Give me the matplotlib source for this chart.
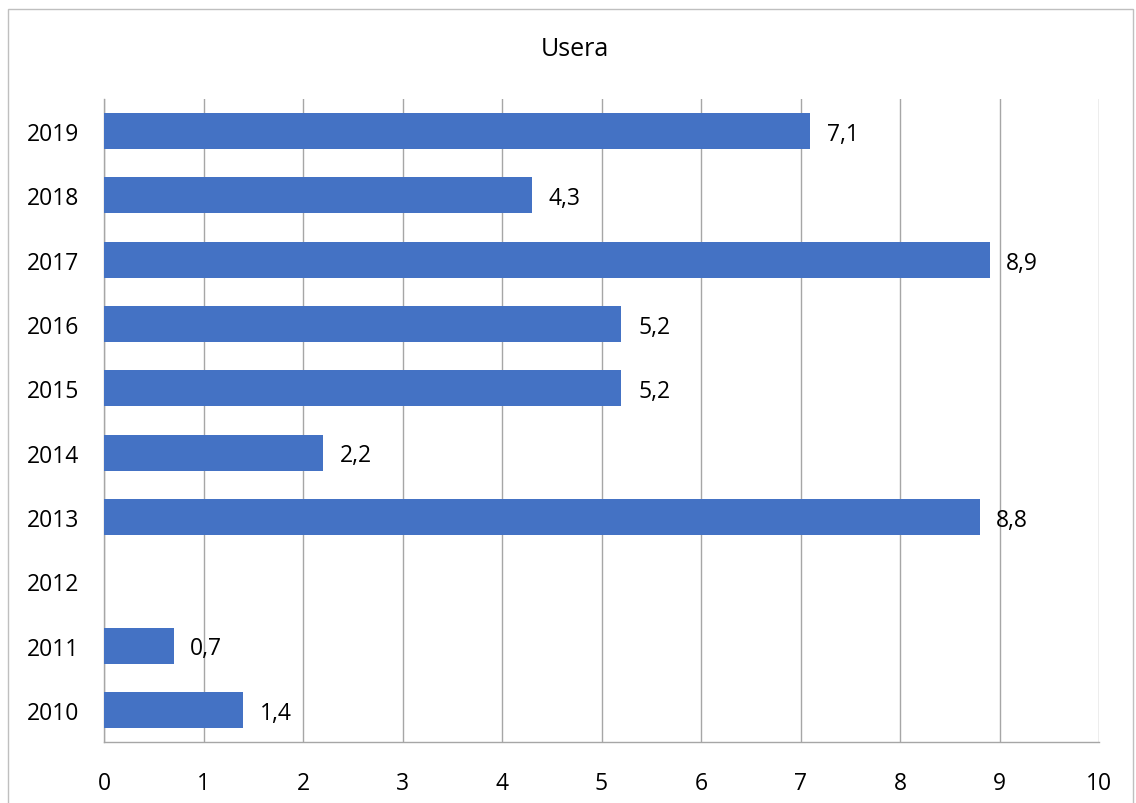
import matplotlib.pyplot as plt
import numpy as np
from matplotlib.patches import Rectangle

plt.rcParams['font.family'] = ['Open Sans', 'DejaVu Sans']

# data
years = ['2010', '2011', '2012', '2013', '2014', '2015', '2016', '2017', '2018', '2019']
values = [1.4, 0.7, np.nan, 8.8, 2.2, 5.2, 5.2, 8.9, 4.3, 7.1]
x_ticks = [0, 1, 2, 3, 4, 5, 6, 7, 8, 9, 10]
title = 'Usera'

W, H = 1136, 804
FS = 16.5
fig = plt.figure(figsize=(W / 100, H / 100), dpi=100)
ax = fig.add_axes([104 / W, (H - 743) / H, (1099 - 104) / W, (743 - 100) / H])

y = np.arange(len(years))
ax.barh(y, np.nan_to_num(values), height=0.56, color='#4472C4', zorder=3)

# etiquetas con coma decimal
for yi, v in zip(y, values):
    if np.isnan(v):
        continue
    ax.annotate(f'{v:.1f}'.replace('.', ','), xy=(v, yi), xytext=(12, -2),
                textcoords='offset points', ha='left', va='center', fontsize=FS)

ax.set_xlim(0, 10)
ax.set_ylim(-0.5, len(years) - 0.5)
ax.set_xticks(x_ticks)
ax.set_xticklabels([str(t) for t in x_ticks], fontsize=FS)
ax.set_yticks(y)
ax.set_yticklabels(years, fontsize=FS)
ax.tick_params(axis='both', length=0)
ax.tick_params(axis='x', pad=21)
ax.tick_params(axis='y', pad=18)

ax.grid(axis='x', color='#a6a6a6', linewidth=1, zorder=0)
for s in ['top', 'right']:
    ax.spines[s].set_visible(False)
for s in ['left', 'bottom']:
    ax.spines[s].set_color('#a6a6a6')
    ax.spines[s].set_linewidth(1)

fig.text(575 / W, 1 - 50 / H, title, ha='center', va='center', fontsize=18)

# marco del gráfico
fig.patches.append(Rectangle((8 / W, -0.05), (1133 - 8) / W, 1.05 - 10 / H,
                             transform=fig.transFigure, fill=False,
                             edgecolor='#bfbfbf', linewidth=1))

fig.savefig('out.png', dpi=100)
